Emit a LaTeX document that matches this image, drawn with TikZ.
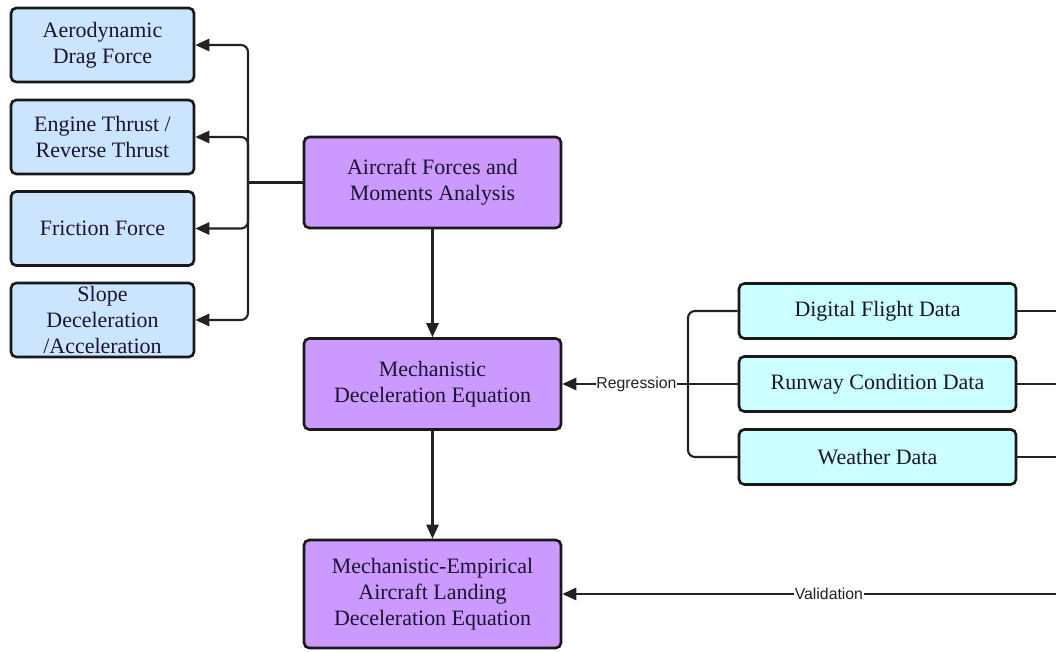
\documentclass[tikz,border=0pt]{standalone}
\usepackage{fontspec}
\setmainfont{Liberation Serif}
\newfontfamily\lblfont{Liberation Sans}
\usepackage{tikz}
\usetikzlibrary{positioning,arrows.meta}

\definecolor{forceblue}{HTML}{CCE5FF}
\definecolor{mainpurple}{HTML}{CC99FF}
\definecolor{datacyan}{HTML}{CCFFFF}
\definecolor{linegray}{HTML}{222222}
\definecolor{textnavy}{HTML}{1A1433}

\begin{document}
\begin{tikzpicture}[
  box/.style={draw=black!90, line width=1.5pt, rounded corners=3pt,
    align=center, text=textnavy, inner sep=0pt,
    font=\fontsize{12.5}{14.8}\selectfont},
  forcebox/.style={box, fill=forceblue, minimum width=3.66cm, minimum height=1.48cm},
  mainbox/.style={box, fill=mainpurple, minimum width=5.14cm, minimum height=1.82cm},
  databox/.style={box, fill=datacyan, minimum width=5.54cm, minimum height=1.10cm},
  conn/.style={draw=linegray, line width=1.2pt},
  arr/.style={conn, -{Triangle[length=8pt,width=7pt]}},
  lbl/.style={fill=white, inner sep=0.5pt, text=linegray,
    font=\lblfont\fontsize{9}{10}\selectfont}
]
\useasboundingbox (0,0) rectangle (21.12,13.04);

% ── Force components (left column) ───────────────────────────
\node[forcebox] (aero)     at (2.05,12.14) {Aerodynamic\\Drag Force};
\node[forcebox] (thrust)   at (2.05,10.30) {Engine Thrust /\\Reverse Thrust};
\node[forcebox] (friction) at (2.05, 8.47) {Friction Force};
\node[forcebox] (slope)    at (2.05, 6.64) {Slope\\Deceleration\\/Acceleration};

% ── Main chain ───────────────────────────────────────────────
\node[mainbox] (forces) at (8.65,9.39) {Aircraft Forces and\\Moments Analysis};
\node[mainbox] (mech)   at (8.65,5.36) {Mechanistic\\Deceleration Equation};
\node[mainbox, minimum height=2.16cm] (emp) at (8.65,1.16)
  {Mechanistic-Empirical\\Aircraft Landing\\Deceleration Equation};

% ── Data sources (right column) ──────────────────────────────
\node[databox] (flight)  at (17.55,6.82) {Digital Flight Data};
\node[databox] (runway)  at (17.55,5.36) {Runway Condition Data};
\node[databox] (weather) at (17.55,3.90) {Weather Data};

% ── Junction points and free ends ────────────────────────────
\coordinate (forcebus) at (4.96,9.39);
\coordinate (databus)  at (13.76,5.36);
\coordinate (rflight)  at (21.12,6.82);
\coordinate (rrunway)  at (21.12,5.36);
\coordinate (rweather) at (21.12,3.90);
\coordinate (rvalid)   at (21.12,1.16);

% ── Forces split ─────────────────────────────────────────────
\draw[conn] (forces.west) -- (forcebus);
\foreach \tgt in {aero, thrust, friction, slope} {
  \draw[arr, rounded corners=4pt] (forcebus) |- (\tgt.east);
}

% ── Main chain arrows ────────────────────────────────────────
\draw[arr] (forces) -- (mech);
\draw[arr] (mech) -- (emp);

% ── Data merge and regression ────────────────────────────────
\draw[conn, rounded corners=4pt] (flight.west) -| (databus);
\draw[conn, rounded corners=4pt] (weather.west) -| (databus);
\draw[conn] (runway.west) -- (databus);
\draw[arr] (databus) -- node[lbl, pos=0.41] {Regression} (mech.east);

% ── Outgoing data lines and validation ───────────────────────
\draw[conn] (flight.east) -- (rflight);
\draw[conn] (runway.east) -- (rrunway);
\draw[conn] (weather.east) -- (rweather);
\draw[arr] (rvalid) -- node[lbl, pos=0.46] {Validation} (emp.east);

\end{tikzpicture}
\end{document}
